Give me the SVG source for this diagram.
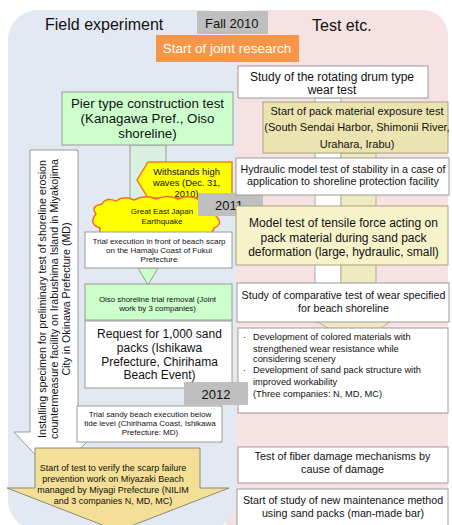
<svg xmlns="http://www.w3.org/2000/svg" width="452" height="525" viewBox="0 0 452 525">
<style>
text{font-family:"Liberation Sans",Arial,sans-serif;fill:#111}
.c{text-anchor:middle}
.box{fill:#fff;stroke:#9a9a9a;stroke-width:1}
.grn{fill:#ccffcc;stroke:#9a9a9a;stroke-width:1}
.gray{fill:#bfbfbf}
</style>
<rect x="0" y="0" width="452" height="525" fill="#fff"/>
<rect x="226" y="10" width="222" height="540" rx="25" fill="#f6e2e2"/>
<rect x="8" y="10" width="228" height="520" rx="30" fill="#e3e9f3"/>

<g id="connectors">
  <rect x="315" y="98" width="26" height="224" fill="#fff" stroke="#aaa"/>
  <path d="M341 153 H376 V320 H392 L358 345 L314 320 H341 Z" fill="#efeac0" stroke="#b5ae86"/>
  <rect x="130" y="145" width="36" height="90" fill="#d9efe0" stroke="#999"/>
  <path d="M138 268 H158 L148 285 Z" fill="#ccffcc" stroke="#999"/>
</g>

<g id="hdr-field"><text x="45" y="30" font-size="16">Field experiment</text></g>
<g id="hdr-fall"><rect class="gray" x="197" y="11" width="71" height="23"/><text x="205" y="28" font-size="13">Fall 2010</text></g>
<g id="hdr-test"><text x="312" y="31" font-size="16">Test etc.</text></g>
<g id="start-joint"><rect x="156" y="35" width="143" height="27" fill="#f79646"/><text class="c" x="227" y="53" font-size="13.5" style="fill:#fff">Start of joint research</text></g>

<g id="left-arrow">
  <path d="M30 150 H78 V432 H96 L55 476 L14 432 H30 Z" fill="#fff" stroke="#999"/>
  <g transform="translate(0,299) rotate(-90)" font-size="10.7">
    <text class="c" x="0" y="45.5">Installing specimen for preliminary test of shoreline erosion</text>
    <text class="c" x="0" y="57.5">countermeasure facility on Irabushima Island in Miyakojima</text>
    <text class="c" x="0" y="69.5">City in Okinawa Prefecture (MD)</text>
  </g>
</g>

<g id="pier">
  <rect class="grn" x="62" y="92" width="171" height="53"/>
  <text class="c" x="147.5" y="107.5" font-size="13.3">Pier type construction test</text>
  <text class="c" x="147.5" y="123" font-size="13.3">(Kanagawa Pref., Oiso</text>
  <text class="c" x="147.5" y="138" font-size="13.3">shoreline)</text>
</g>

<g id="withstands">
  <path d="M148 162 H232 V198 H148 L137 180 Z" fill="#ffff00" stroke="#f07f28" stroke-width="1.5"/>
  <text class="c" x="186.5" y="174.5" font-size="9.4">Withstands high</text>
  <text class="c" x="186.5" y="185.5" font-size="9.4">waves (Dec. 31,</text>
  <text class="c" x="186.5" y="196.5" font-size="9.4">2010)</text>
</g>

<g id="earthquake">
  <path d="M96 214 Q90 206 102 204 Q106 197 116 201 Q124 195 134 200 Q146 194 156 199 Q168 194 178 199 Q190 194 200 200 Q212 197 214 205 Q224 208 216 216 Q224 224 214 228 Q212 237 200 233 Q190 240 178 235 Q166 240 156 235 Q144 240 132 235 Q120 240 110 234 Q98 236 100 228 Q88 224 96 214 Z" fill="#ffff00" stroke="#ef6c2c" stroke-width="1.5"/>
  <text class="c" x="162" y="214" font-size="8">Great East Japan</text>
  <text class="c" x="162" y="224" font-size="8">Earthquake</text>
</g>

<g id="y2011"><rect class="gray" x="198" y="193" width="65" height="23"/><text class="c" x="229" y="210" font-size="13">2011</text></g>

<g id="trial-fukui">
  <rect class="box" x="85" y="232" width="147" height="36"/>
  <text class="c" x="159" y="244" font-size="8">Trial execution in front of beach scarp</text>
  <text class="c" x="159" y="253" font-size="8">on the Hamaju Coast of Fukui</text>
  <text class="c" x="159" y="261.5" font-size="8">Prefecture</text>
</g>

<g id="oiso-removal">
  <rect class="grn" x="85" y="284" width="147" height="36"/>
  <text class="c" x="157.5" y="302" font-size="7.9">Oiso shoreline trial removal (Joint</text>
  <text class="c" x="157.5" y="311" font-size="7.9">work by 3 companies)</text>
</g>

<g id="request">
  <rect class="box" x="85" y="321" width="147" height="67"/>
  <text class="c" x="159.5" y="338" font-size="12">Request for 1,000 sand</text>
  <text class="c" x="159.5" y="352" font-size="12">packs (Ishikawa</text>
  <text class="c" x="159.5" y="365.5" font-size="12">Prefecture, Chirihama</text>
  <text class="c" x="159.5" y="379" font-size="12">Beach Event)</text>
</g>

<g id="trial-chirihama">
  <rect class="box" x="77" y="406" width="145" height="36"/>
  <text class="c" x="150" y="417" font-size="8">Trial sandy beach execution below</text>
  <text class="c" x="150" y="426" font-size="8">tide level (Chirihama Coast, Ishikawa</text>
  <text class="c" x="150" y="435" font-size="8">Prefecture: MD)</text>
</g>

<g id="miyazaki">
  <path d="M35 448 H200 V488 H229 L118 531 L7 488 H35 Z" fill="#f3df95" stroke="#8a8a7a"/>
  <text class="c" x="113" y="471" font-size="9">Start of test to verify the scarp failure</text>
  <text class="c" x="113" y="482" font-size="9">prevention work on Miyazaki Beach</text>
  <text class="c" x="113" y="493" font-size="9">managed by Miyagi Prefecture (NILIM</text>
  <text class="c" x="113" y="503.5" font-size="9">and 3 companies N, MD, MC)</text>
</g>

<g id="drum">
  <rect class="box" x="238" y="66" width="190" height="32"/>
  <text class="c" x="332" y="81" font-size="12">Study of the rotating drum type</text>
  <text class="c" x="332" y="94" font-size="12">wear test</text>
</g>

<g id="exposure">
  <rect x="263" y="102" width="185" height="51" fill="#ece4b0" stroke="#a8a27c"/>
  <text class="c" x="357" y="115" font-size="11">Start of pack material exposure test</text>
  <text class="c" x="357" y="131" font-size="11">(South Sendai Harbor, Shimonii River,</text>
  <text class="c" x="357" y="148" font-size="11">Urahara, Irabu)</text>
</g>

<g id="hydraulic">
  <rect class="box" x="236" y="158" width="213" height="37"/>
  <text class="c" x="343" y="173" font-size="10.7">Hydraulic model test of stability in a case of</text>
  <text class="c" x="343" y="185" font-size="10.7">application to shoreline protection facility</text>
</g>

<g id="tensile">
  <rect x="236" y="206" width="212" height="59" fill="#f6f3cb" stroke="#a8a27c"/>
  <text class="c" x="343.5" y="227" font-size="12">Model test of tensile force acting on</text>
  <text class="c" x="343.5" y="242" font-size="12">pack material during sand pack</text>
  <text class="c" x="343.5" y="256" font-size="12">deformation (large, hydraulic, small)</text>
</g>

<g id="comparative">
  <rect class="box" x="237" y="283" width="212" height="39"/>
  <text class="c" x="343.5" y="299" font-size="10.7">Study of comparative test of wear specified</text>
  <text class="c" x="343.5" y="312" font-size="10.7">for beach shoreline</text>
</g>

<g id="development">
  <rect class="box" x="238" y="328" width="210" height="85"/>
  <g font-size="9.3">
    <text x="243" y="340">·</text>
    <text x="253" y="340">Development of colored materials with</text>
    <text x="253" y="352">strengthened wear resistance while</text>
    <text x="253" y="362">considering scenery</text>
    <text x="243" y="373">·</text>
    <text x="253" y="373">Development of sand pack structure with</text>
    <text x="253" y="385">improved workability</text>
    <text x="253" y="397">(Three companies: N, MD, MC)</text>
  </g>
</g>

<g id="y2012"><rect class="gray" x="184" y="382" width="64" height="23"/><text class="c" x="216" y="399" font-size="13">2012</text></g>

<g id="fiber">
  <rect class="box" x="238" y="447" width="210" height="36"/>
  <text class="c" x="342.5" y="460" font-size="10.8">Test of fiber damage mechanisms by</text>
  <text class="c" x="342.5" y="473" font-size="10.8">cause of damage</text>
</g>

<g id="maintenance">
  <rect class="box" x="237" y="489" width="211" height="40"/>
  <text class="c" x="343" y="504" font-size="10.7">Start of study of new maintenance method</text>
  <text class="c" x="343" y="517" font-size="10.7">using sand packs (man-made bar)</text>
</g>
</svg>
